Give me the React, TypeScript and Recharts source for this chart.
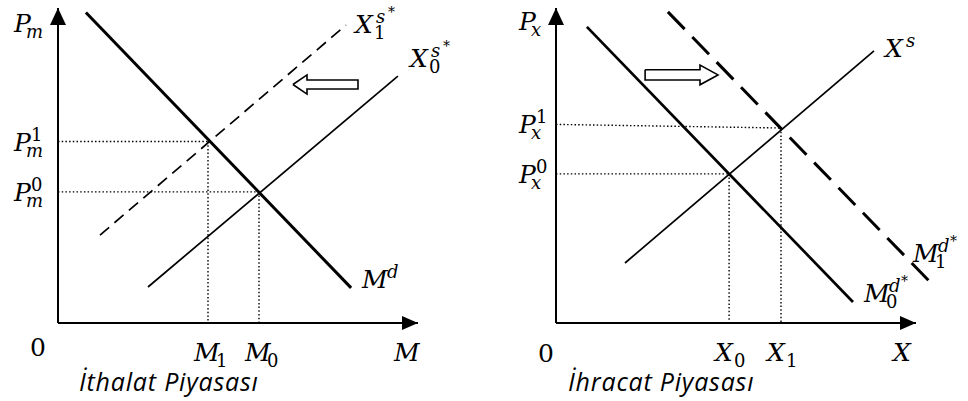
import React from "react";
import { LineChart, Line, XAxis, YAxis, ReferenceDot } from "recharts";

type Pt = { x: number; y: number };
type MathText = { base: string; sub?: string; sup?: string; star?: boolean };

// İthalat piyasası (sol panel)
const importDemand: Pt[] = [
	{ x: 0.93, y: 10.35 },
	{ x: 9.77, y: 1.17 },
];
const importSupply0: Pt[] = [
	{ x: 3.0, y: 1.2 },
	{ x: 11.33, y: 8.23 },
];
const importSupply1: Pt[] = [
	{ x: 1.4, y: 2.93 },
	{ x: 9.6, y: 9.93 },
];
const importQty = [5.0, 6.7]; // M1, M0
const importPrice = [6.05, 4.37]; // Pm1, Pm0
const importShift: Pt[] = [
	{ x: 7.83, y: 7.95 },
	{ x: 8.3, y: 8.27 },
	{ x: 8.3, y: 8.1 },
	{ x: 10.0, y: 8.1 },
	{ x: 10.0, y: 7.8 },
	{ x: 8.3, y: 7.8 },
	{ x: 8.3, y: 7.63 },
	{ x: 7.83, y: 7.95 },
];
const importXLabels: MathText[] = [
	{ base: "M", sub: "1" },
	{ base: "M", sub: "0" },
];
const importYLabels: MathText[] = [
	{ base: "P", sub: "m", sup: "1" },
	{ base: "P", sub: "m", sup: "0" },
];

// İhracat piyasası (sağ panel)
const exportSupply: Pt[] = [
	{ x: 2.3, y: 2.0 },
	{ x: 10.6, y: 9.07 },
];
const exportDemand0: Pt[] = [
	{ x: 1.03, y: 9.87 },
	{ x: 9.9, y: 0.7 },
];
const exportDemand1: Pt[] = [
	{ x: 3.73, y: 10.37 },
	{ x: 12.63, y: 1.2 },
];
const exportQty = [5.77, 7.5]; // X0, X1
const exportPrice = [4.97, 6.5]; // Px0, Px1 (at the curves)
const exportPriceAtAxis = [4.97, 6.62]; // Px0, Px1 (at the axis)
const exportShift: Pt[] = [
	{ x: 2.97, y: 8.44 },
	{ x: 4.8, y: 8.44 },
	{ x: 4.8, y: 8.6 },
	{ x: 5.4, y: 8.27 },
	{ x: 4.8, y: 7.94 },
	{ x: 4.8, y: 8.1 },
	{ x: 2.97, y: 8.1 },
	{ x: 2.97, y: 8.44 },
];
const exportXLabels: MathText[] = [
	{ base: "X", sub: "0" },
	{ base: "X", sub: "1" },
];
const exportYLabels: MathText[] = [
	{ base: "P", sub: "x", sup: "0" },
	{ base: "P", sub: "x", sup: "1" },
];

const xAxisLine: Pt[] = [
	{ x: 0, y: 0 },
	{ x: 12, y: 0 },
];
const yAxisLine: Pt[] = [
	{ x: 0, y: 0 },
	{ x: 0, y: 10.5 },
];

const H = 401;
const AXIS_Y = 323;
const SERIF = "'DejaVu Serif', 'Liberation Serif', serif";
const SANS = "'Open Sans', 'Noto Sans', sans-serif";

const glyph: Record<string, { sub: number; sup: number }> = {
	P: { sub: 12, sup: 17 },
	M: { sub: 22, sup: 25 },
	X: { sub: 19, sup: 21 },
};

const isDigit = (s?: string) => !!s && /^\d+$/.test(s);

function MathLabel({ x, y, base, sub, sup, star }: MathText & { x: number; y: number }) {
	const g = glyph[base] ?? { sub: 14, sup: 14 };
	return (
		<g fontFamily={SERIF} fill="#000">
			<text x={x} y={y} fontSize={25} fontStyle={isDigit(base) ? "normal" : "italic"}>
				{base}
			</text>
			{sub && (
				<text x={x + g.sub} y={y + 6} fontSize={18} fontStyle={isDigit(sub) ? "normal" : "italic"}>
					{sub}
				</text>
			)}
			{sup && (
				<text x={x + g.sup} y={y - 10} fontSize={18} fontStyle={isDigit(sup) ? "normal" : "italic"}>
					{sup}
				</text>
			)}
			{star && (
				<text x={x + g.sup + 12} y={y - 16} fontSize={14}>
					*
				</text>
			)}
		</g>
	);
}

const findLabel = (ticks: number[], labels: MathText[], v: number) =>
	labels[ticks.findIndex((t) => Math.abs(t - v) < 1e-6)];

const xTick = (ticks: number[], labels: MathText[]) => (props: any) => {
	const l = findLabel(ticks, labels, props.payload.value);
	if (!l) return <g />;
	return <MathLabel {...l} x={props.x - 14} y={AXIS_Y + 38} />;
};

const yTick = (ticks: number[], labels: MathText[], left: number) => (props: any) => {
	const l = findLabel(ticks, labels, props.payload.value);
	if (!l) return <g />;
	return <MathLabel {...l} x={left} y={props.y + 9} />;
};

const arrowHead = (dir: "up" | "right") => (props: any) => {
	const { cx, cy, index } = props;
	if (index !== 1) return <g key={`${dir}-${index}`} />;
	const pts =
		dir === "right"
			? `${cx},${cy} ${cx - 16},${cy - 7} ${cx - 16},${cy + 7}`
			: `${cx},${cy} ${cx - 8},${cy + 17} ${cx + 8},${cy + 17}`;
	return <polygon key={`${dir}-${index}`} points={pts} fill="#000" />;
};

const seg = (data: Pt[], key: string, width: number, dash?: string) => (
	<Line
		key={key}
		data={data}
		dataKey="y"
		type="linear"
		stroke="#000"
		strokeWidth={width}
		strokeDasharray={dash}
		dot={false}
		activeDot={false}
		isAnimationActive={false}
	/>
);

const guides = (qty: number[], price: number[], priceAxis: number[], id: string) =>
	qty.flatMap((q, i) => [
		seg(
			[
				{ x: 0, y: priceAxis[i] },
				{ x: q, y: price[i] },
			],
			`${id}-h${i}`,
			1.4,
			"1.5 2.2"
		),
		seg(
			[
				{ x: q, y: price[i] },
				{ x: q, y: 0 },
			],
			`${id}-v${i}`,
			1.4,
			"1.5 2.2"
		),
	]);

const Tag = ({ x, y, dx, dy, text }: { x: number; y: number; dx: number; dy: number; text: MathText }) => (
	<ReferenceDot
		x={x}
		y={y}
		r={0}
		ifOverflow="visible"
		shape={(p: any) => <MathLabel {...text} x={p.cx + dx} y={p.cy + dy} />}
	/>
);

const Caption = ({ dx, dy, text }: { dx: number; dy: number; text: string }) => (
	<ReferenceDot
		x={0}
		y={0}
		r={0}
		ifOverflow="visible"
		shape={(p: any) => (
			<text
				x={p.cx + dx}
				y={p.cy + dy}
				fontFamily={SANS}
				fontStyle="italic"
				fontSize={25}
				letterSpacing={0.8}
				fill="#000"
			>
				{text}
			</text>
		)}
	/>
);

const Origin = ({ dx, dy }: { dx: number; dy: number }) => (
	<ReferenceDot
		x={0}
		y={0}
		r={0}
		ifOverflow="visible"
		shape={(p: any) => (
			<text x={p.cx + dx} y={p.cy + dy} fontFamily={SERIF} fontSize={25} textAnchor="middle" fill="#000">
				0
			</text>
		)}
	/>
);

const axes = (id: string) => [
	<Line
		key={`${id}-xa`}
		data={xAxisLine}
		dataKey="y"
		stroke="#000"
		strokeWidth={2}
		dot={arrowHead("right")}
		activeDot={false}
		isAnimationActive={false}
	/>,
	<Line
		key={`${id}-ya`}
		data={yAxisLine}
		dataKey="y"
		stroke="#000"
		strokeWidth={2}
		dot={arrowHead("up")}
		activeDot={false}
		isAnimationActive={false}
	/>,
];

export default function App() {
	return (
		<div style={{ position: "absolute", left: 0, top: 0, width: 968, height: H, background: "#fff" }}>
			<div style={{ position: "absolute", left: 0, top: 0 }}>
				<LineChart width={484} height={H} margin={{ top: 8, right: 36, bottom: 0, left: 0 }}>
					<XAxis
						dataKey="x"
						type="number"
						domain={[0, 13]}
						ticks={importQty}
						interval={0}
						axisLine={false}
						tickLine={false}
						height={78}
						tick={xTick(importQty, importXLabels)}
					/>
					<YAxis
						type="number"
						domain={[0, 10.5]}
						ticks={importPrice}
						interval={0}
						axisLine={false}
						tickLine={false}
						width={58}
						tick={yTick(importPrice, importYLabels, 14)}
					/>
					{guides(importQty, importPrice, importPrice, "imp")}
					{axes("imp")}
					{seg(importSupply1, "imp-s1", 1.7, "12 7")}
					{seg(importSupply0, "imp-s0", 1.7)}
					{seg(importDemand, "imp-d", 3)}
					{seg(importShift, "imp-arrow", 1.6)}
					<Tag x={9.6} y={9.93} dx={9} dy={8} text={{ base: "X", sub: "1", sup: "s", star: true }} />
					<Tag x={11.33} y={8.23} dx={12} dy={-9} text={{ base: "X", sub: "0", sup: "s", star: true }} />
					<Tag x={9.77} y={1.17} dx={11} dy={0} text={{ base: "M", sup: "d" }} />
					<Tag x={0} y={10.5} dx={-44} dy={24} text={{ base: "P", sub: "m" }} />
					<Tag x={12} y={0} dx={-24} dy={38} text={{ base: "M" }} />
					<Origin dx={-20} dy={33} />
					<Caption dx={21} dy={68} text="İthalat Piyasası" />
				</LineChart>
			</div>
			<div style={{ position: "absolute", left: 488, top: 0 }}>
				<LineChart width={480} height={H} margin={{ top: 8, right: 22, bottom: 0, left: 0 }}>
					<XAxis
						dataKey="x"
						type="number"
						domain={[0, 13]}
						ticks={exportQty}
						interval={0}
						axisLine={false}
						tickLine={false}
						height={78}
						tick={xTick(exportQty, exportXLabels)}
					/>
					<YAxis
						type="number"
						domain={[0, 10.5]}
						ticks={exportPriceAtAxis}
						interval={0}
						axisLine={false}
						tickLine={false}
						width={68}
						tick={yTick(exportPriceAtAxis, exportYLabels, 31)}
					/>
					{guides(exportQty, exportPrice, exportPriceAtAxis, "exp")}
					{axes("exp")}
					{seg(exportDemand1, "exp-d1", 3, "24 11")}
					{seg(exportSupply, "exp-s", 1.7)}
					{seg(exportDemand0, "exp-d0", 2.7)}
					{seg(exportShift, "exp-arrow", 1.6)}
					<Tag x={10.6} y={9.07} dx={11} dy={6} text={{ base: "X", sup: "s" }} />
					<Tag x={12.63} y={1.2} dx={-22} dy={-25} text={{ base: "M", sub: "1", sup: "d", star: true }} />
					<Tag x={9.9} y={0.7} dx={11} dy={0} text={{ base: "M", sub: "0", sup: "d", star: true }} />
					<Tag x={0} y={10.5} dx={-37} dy={22} text={{ base: "P", sub: "x" }} />
					<Tag x={12} y={0} dx={-23} dy={38} text={{ base: "X" }} />
					<Origin dx={-10} dy={39} />
					<Caption dx={12} dy={68} text="İhracat Piyasası" />
				</LineChart>
			</div>
		</div>
	);
}
